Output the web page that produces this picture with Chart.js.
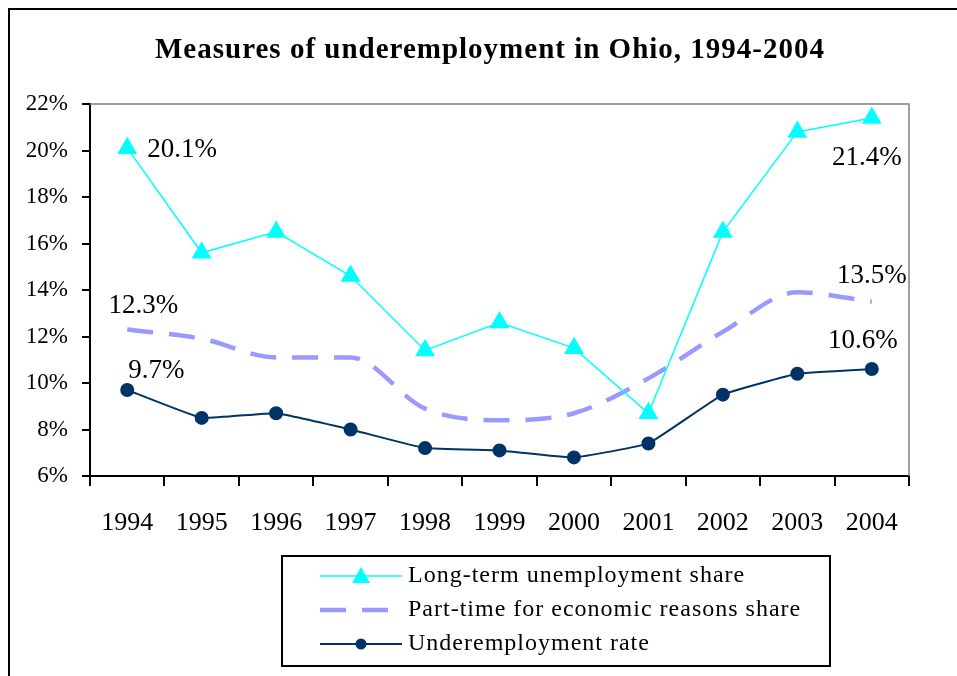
<!DOCTYPE html>
<html>
<head>
<meta charset="UTF-8">
<title>Measures of underemployment in Ohio, 1994-2004</title>
<script src="https://cdn.jsdelivr.net/npm/chart.js"></script>
<style>
html, body { margin: 0; padding: 0; background: #fff; }
#wrap { width: 957px; height: 676px; position: relative; }
</style>
</head>
<body>
<div id="wrap"><canvas id="chart" width="957" height="676"></canvas></div>
<script>
const years = ['1994', '1995', '1996', '1997', '1998', '1999', '2000', '2001', '2002', '2003', '2004'];
const longTermShare = [20.1, 15.6, 16.5, 14.6, 11.4, 12.6, 11.5, 8.7, 16.5, 20.8, 21.4];
const partTimeShare = [12.3, 11.9, 11.1, 11.1, 8.9, 8.4, 8.7, 10.2, 12.2, 13.9, 13.5];
const underemploymentRate = [9.7, 8.5, 8.7, 8.0, 7.2, 7.1, 6.8, 7.4, 9.5, 10.4, 10.6];
const yTicks = { min: 6, max: 22, step: 2 };

const serif = '"Liberation Serif", "Times New Roman", serif';

// labels next to first / last points: [datasetIndex, pointIndex, dx, dy, align]
const pointLabels = [
	[0, 0, 20, 2, 'left'],
	[0, 10, 30, 40, 'right'],
	[1, 0, 51, -24, 'right'],
	[1, 10, 35, -26, 'right'],
	[2, 0, 1, -19, 'left'],
	[2, 10, 26, -28, 'right']
];

const decor = {
	id: 'decor',
	beforeDraw(c) {
		const ctx = c.ctx;
		ctx.save();
		ctx.strokeStyle = '#000';
		ctx.lineWidth = 2;
		ctx.strokeRect(9, 9, 1000, 1000);
		ctx.fillStyle = '#000';
		ctx.font = 'bold 29px ' + serif;
		ctx.letterSpacing = '1px';
		ctx.textAlign = 'center';
		ctx.textBaseline = 'middle';
		ctx.fillText('Measures of underemployment in Ohio, 1994-2004', 490, 51);
		ctx.restore();
	},
	afterDatasetsDraw(c) {
		const ctx = c.ctx, a = c.chartArea;
		ctx.save();
		// gray frame on top and right of plot
		ctx.strokeStyle = '#808080';
		ctx.lineWidth = 1.5;
		ctx.beginPath();
		ctx.moveTo(a.left, a.top);
		ctx.lineTo(a.right, a.top);
		ctx.lineTo(a.right, a.bottom);
		ctx.stroke();

		ctx.fillStyle = '#000';
		ctx.font = '27px ' + serif;
		ctx.textBaseline = 'middle';
		pointLabels.forEach(([d, i, dx, dy, al]) => {
			const p = c.getDatasetMeta(d).data[i];
			const v = c.data.datasets[d].data[i];
			ctx.textAlign = al;
			ctx.fillText(v.toFixed(1) + '%', p.x + dx, p.y + dy);
		});

		// legend box
		ctx.strokeStyle = '#000';
		ctx.lineWidth = 2;
		ctx.strokeRect(282, 556, 548, 110);
		ctx.font = '24px ' + serif;
		ctx.letterSpacing = '1px';
		ctx.textAlign = 'left';
		const rows = [576, 610, 644];
		c.data.datasets.forEach((ds, k) => {
			const y = rows[k];
			ctx.save();
			ctx.strokeStyle = ds.borderColor;
			ctx.lineWidth = ds.borderWidth;
			ctx.setLineDash(ds.borderDash || []);
			ctx.beginPath();
			ctx.moveTo(320, y);
			ctx.lineTo(402, y);
			ctx.stroke();
			ctx.restore();
			ctx.fillStyle = ds.pointBackgroundColor;
			if (ds.pointStyle === 'triangle') {
				ctx.beginPath();
				ctx.moveTo(361, y - 9);
				ctx.lineTo(370, y + 7);
				ctx.lineTo(352, y + 7);
				ctx.closePath();
				ctx.fill();
			} else if (ds.pointRadius > 0) {
				ctx.beginPath();
				ctx.arc(361, y, 5.5, 0, Math.PI * 2);
				ctx.fill();
			}
			ctx.fillStyle = '#000';
			ctx.fillText(ds.label, 408, y);
		});
		ctx.restore();
	}
};

new Chart(document.getElementById('chart'), {
	type: 'line',
	data: {
		labels: years,
		datasets: [
			{ label: 'Long-term unemployment share', data: longTermShare, borderColor: '#00FFFF', borderWidth: 1.5, pointStyle: 'triangle', pointRadius: 10, pointBackgroundColor: '#00FFFF', pointBorderColor: '#00FFFF', tension: 0 },
			{ label: 'Part-time for economic reasons share', data: partTimeShare, borderColor: '#9999FF', borderWidth: 4.5, borderDash: [26, 16], pointRadius: 0, pointBackgroundColor: '#9999FF', cubicInterpolationMode: 'monotone' },
			{ label: 'Underemployment rate', data: underemploymentRate, borderColor: '#003366', borderWidth: 2, pointStyle: 'circle', pointRadius: 6, pointBackgroundColor: '#003366', pointBorderColor: '#003366', tension: 0.1 }
		]
	},
	options: {
		responsive: false,
		animation: false,
		layout: { padding: { left: 0, right: 48, top: 104, bottom: 140 } },
		plugins: { legend: { display: false }, title: { display: false }, tooltip: { enabled: false } },
		scales: {
			x: {
				offset: true,
				grid: { offset: true, drawOnChartArea: false, tickLength: 10, color: '#000', lineWidth: 2 },
				border: { color: '#000', width: 2 },
				ticks: { color: '#000', font: { family: serif, size: 26 }, padding: 22, maxRotation: 0 },
				afterFit(s) { s.height = 60; }
			},
			y: {
				min: yTicks.min, max: yTicks.max,
				grid: { drawOnChartArea: false, tickLength: 8, color: '#000', lineWidth: 2 },
				border: { color: '#000', width: 2 },
				ticks: { stepSize: yTicks.step, color: '#000', font: { family: serif, size: 23 }, padding: 14, callback: v => v + '%' },
				afterFit(s) { s.width = 90; }
			}
		}
	},
	plugins: [decor]
});
</script>
</body>
</html>
